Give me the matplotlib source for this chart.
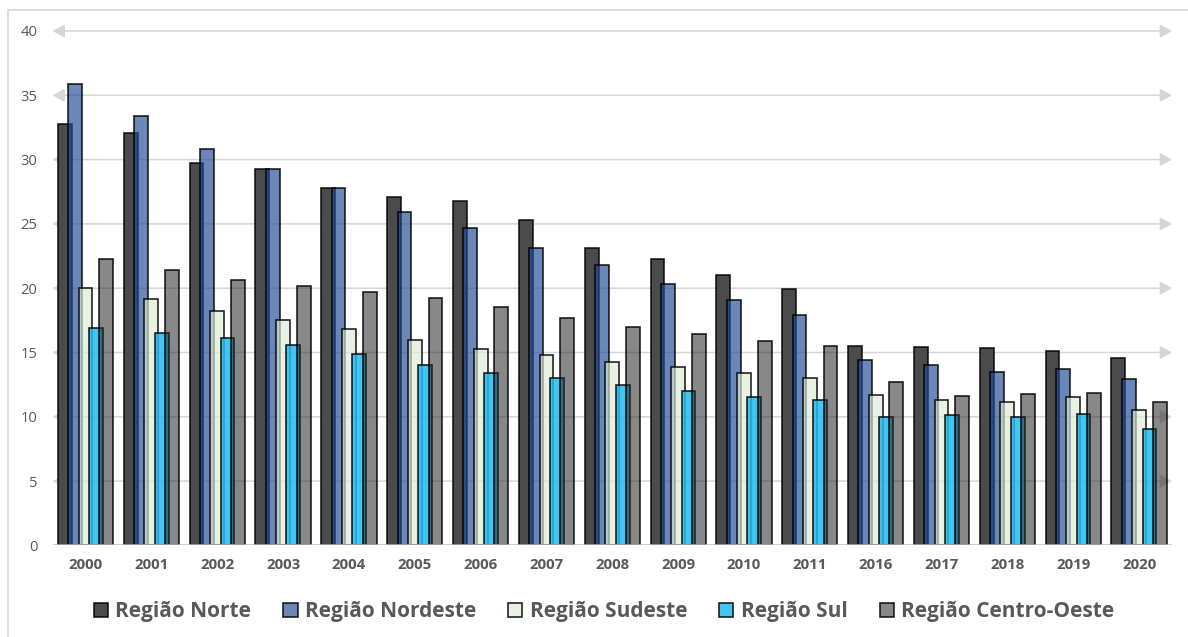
import numpy as np
import matplotlib
matplotlib.use("Agg")
import matplotlib.pyplot as plt
from matplotlib.patches import Rectangle

plt.rcParams['font.family'] = ['Open Sans', 'DejaVu Sans']

years = ['2000', '2001', '2002', '2003', '2004', '2005', '2006', '2007', '2008',
         '2009', '2010', '2011', '2016', '2017', '2018', '2019', '2020']
series_names = ['Região Norte', 'Região Nordeste', 'Região Sudeste', 'Região Sul',
                'Região Centro-Oeste']
norte = [32.8, 32.1, 29.7, 29.3, 27.8, 27.1, 26.8, 25.3, 23.1, 22.3, 21.0, 19.9,
         15.5, 15.4, 15.35, 15.1, 14.55]
nordeste = [35.9, 33.4, 30.8, 29.25, 27.8, 25.9, 24.7, 23.1, 21.8, 20.3, 19.05, 17.95,
            14.45, 14.05, 13.5, 13.7, 12.95]
sudeste = [20.05, 19.15, 18.2, 17.5, 16.8, 16.0, 15.3, 14.8, 14.3, 13.9, 13.4, 13.0,
           11.7, 11.3, 11.15, 11.55, 10.5]
sul = [16.9, 16.5, 16.1, 15.6, 14.85, 14.05, 13.4, 13.0, 12.5, 12.0, 11.55, 11.3,
       9.95, 10.15, 9.95, 10.25, 9.05]
centro_oeste = [22.3, 21.4, 20.6, 20.2, 19.7, 19.25, 18.5, 17.7, 17.0, 16.4, 15.9, 15.5,
                12.7, 11.65, 11.8, 11.85, 11.15]
y_ticks = [0, 5, 10, 15, 20, 25, 30, 35, 40]

series = [norte, nordeste, sudeste, sul, centro_oeste]
face_colors = [(75/255, 75/255, 75/255, 1.0),
               (33/255, 76/255, 150/255, 0.67),
               (222/255, 236/255, 213/255, 0.67),
               (35/255, 186/255, 238/255, 0.85),
               (38/255, 38/255, 38/255, 0.55)]

W, H = 1188, 637
fig = plt.figure(figsize=(W/100, H/100), dpi=100)
ax = fig.add_axes([52.6/W, (H-545.4)/H, 1119.4/W, 514.4/H])

x = np.arange(len(years))
step = 0.157
width = 0.21
for i, (vals, name, fc) in enumerate(zip(series, series_names, face_colors)):
    ax.bar(x + (i-2)*step, vals, width=width, color=fc,
           edgecolor=(0, 0, 0, 0.85), linewidth=1.2, label=name, zorder=2+i*0.1)

ax.set_xlim(-0.5, len(years)-0.5)
ax.set_ylim(0, 40)

# gridlines with arrowheads at both ends
for yv in y_ticks[1:]:
    ax.annotate('', xy=(0, yv), xytext=(1, yv),
                xycoords=('axes fraction', 'data'), textcoords=('axes fraction', 'data'),
                arrowprops=dict(arrowstyle='<|-|>,head_length=0.72,head_width=0.4',
                                color='#d6d6d6', lw=1.1, shrinkA=0, shrinkB=0,
                                mutation_scale=10),
                zorder=0.5, annotation_clip=False)
ax.axhline(0, color='#bfbfbf', lw=1.8, zorder=3)

for s in ax.spines.values():
    s.set_visible(False)
ax.set_yticks(y_ticks)
ax.set_xticks(x)
ax.set_xticklabels(years, fontsize=10.8, fontweight='bold', color='#595959')
ax.tick_params(axis='y', length=0, pad=11, labelsize=10.6, labelcolor='#595959')
ax.tick_params(axis='x', length=0, pad=9)
ax.grid(False)

leg = fig.legend(loc='center', bbox_to_anchor=(604/W, (H-612)/H), ncol=5,
                 frameon=False, prop=dict(family='Open Sans', weight='bold', size=15),
                 handlelength=0.68, handleheight=0.68, handletextpad=0.34,
                 columnspacing=1.55, borderaxespad=0, borderpad=0)
for t in leg.get_texts():
    t.set_color('#595959')

# outer chart border
fig.add_artist(Rectangle((8/W, -0.1), 1.2, (H-10)/H + 0.1, transform=fig.transFigure,
                         fill=False, edgecolor='#d9d9d9', lw=1.2, zorder=0))

fig.savefig('out.png', dpi=100)
